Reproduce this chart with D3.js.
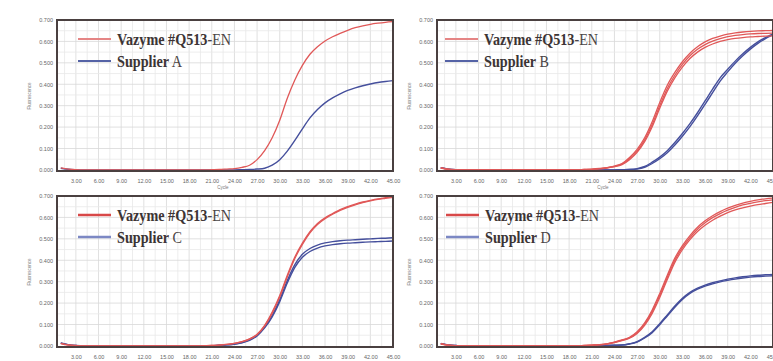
<!DOCTYPE html>
<html>
<head>
<meta charset="utf-8">
<script src="https://cdn.jsdelivr.net/npm/d3@7"></script>
<style>
  html, body { margin: 0; padding: 0; background: #fff; }
  svg { display: block; }
  .tick text { font-family: "Liberation Sans", Arial, sans-serif; font-size: 5.5px; fill: #666; }
  .legend text { font-family: "Liberation Serif", "Times New Roman", serif; font-size: 16.5px; fill: #3c3434; }
</style>
</head>
<body>
<div class="qpcr-grid"></div>
<script>
// cycle numbers on the x axis
const cycles = [1, 2, 3, 4, 5, 6, 7, 8, 9, 10, 11, 12, 13, 14, 15, 16, 17, 18, 19, 20, 21, 22, 23,
  24, 25, 26, 27, 28, 29, 30, 31, 32, 33, 34, 35, 36, 37, 38, 39, 40, 41, 42, 43, 44, 45];

const xTicks = [3, 6, 9, 12, 15, 18, 21, 24, 27, 30, 33, 36, 39, 42, 45];
const yTicks = [0, 0.1, 0.2, 0.3, 0.4, 0.5, 0.6, 0.7];

const supplierNames = ["A", "B", "C", "D"];

// panel A
const vazymeA = [0.010, 0.004, 0.001, 0, 0, 0, 0, 0, 0, 0, 0, 0, 0, 0, 0, 0, 0, 0, 0, 0, 0.001, 0.002, 0.004,
  0.006, 0.012, 0.022, 0.048, 0.090, 0.150, 0.232, 0.335, 0.420, 0.488, 0.540, 0.575, 0.602, 0.622, 0.638,
  0.652, 0.664, 0.673, 0.680, 0.685, 0.689, 0.692];
const supplierA = [0.008, 0.003, 0.001, 0, 0, 0, 0, 0, 0, 0, 0, 0, 0, 0, 0, 0, 0, 0, 0, 0, 0, 0, 0,
  0, 0.001, 0.002, 0.004, 0.008, 0.022, 0.048, 0.088, 0.138, 0.192, 0.243, 0.282, 0.313, 0.336, 0.355,
  0.371, 0.383, 0.393, 0.401, 0.408, 0.413, 0.417];

// panel B
const vazymeB1 = [0.008, 0.003, 0.001, 0, 0, 0, 0, 0, 0, 0, 0, 0, 0, 0, 0, 0, 0, 0, 0, 0.002, 0.004, 0.007, 0.011,
  0.018, 0.030, 0.058, 0.096, 0.150, 0.225, 0.315, 0.395, 0.455, 0.505, 0.545, 0.575, 0.598, 0.614, 0.625,
  0.634, 0.640, 0.644, 0.647, 0.649, 0.650, 0.651];
const vazymeB2 = [0.009, 0.003, 0.001, 0, 0, 0, 0, 0, 0, 0, 0, 0, 0, 0, 0, 0, 0, 0, 0, 0.002, 0.003, 0.006, 0.010,
  0.016, 0.027, 0.052, 0.088, 0.140, 0.212, 0.300, 0.380, 0.442, 0.493, 0.533, 0.563, 0.585, 0.601, 0.613,
  0.622, 0.628, 0.632, 0.635, 0.637, 0.638, 0.639];
const vazymeB3 = [0.010, 0.004, 0.001, 0, 0, 0, 0, 0, 0, 0, 0, 0, 0, 0, 0, 0, 0, 0, 0, 0.001, 0.003, 0.005, 0.009,
  0.015, 0.025, 0.048, 0.082, 0.132, 0.202, 0.288, 0.368, 0.430, 0.480, 0.520, 0.550, 0.572, 0.588, 0.600,
  0.608, 0.614, 0.618, 0.621, 0.623, 0.625, 0.626];
const supplierB1 = [0.010, 0.004, 0.001, 0, 0, 0, 0, 0, 0, 0, 0, 0, 0, 0, 0, 0, 0, 0, 0, 0, 0, 0, 0,
  0, 0.001, 0.002, 0.006, 0.016, 0.036, 0.060, 0.090, 0.128, 0.170, 0.216, 0.267, 0.322, 0.377, 0.430,
  0.470, 0.508, 0.542, 0.572, 0.598, 0.618, 0.635];
const supplierB2 = [0.011, 0.004, 0.001, 0, 0, 0, 0, 0, 0, 0, 0, 0, 0, 0, 0, 0, 0, 0, 0, 0, 0, 0, 0,
  0, 0.001, 0.002, 0.004, 0.012, 0.030, 0.052, 0.080, 0.116, 0.157, 0.202, 0.252, 0.306, 0.361, 0.415,
  0.458, 0.498, 0.533, 0.564, 0.591, 0.613, 0.631];

// panel C
const vazymeC1 = [0.012, 0.005, 0.002, 0, 0, 0, 0, 0, 0, 0, 0, 0, 0, 0, 0, 0, 0, 0, 0, 0.001, 0.002, 0.004, 0.007,
  0.012, 0.020, 0.032, 0.055, 0.096, 0.158, 0.235, 0.330, 0.415, 0.480, 0.533, 0.572, 0.598, 0.618, 0.637,
  0.650, 0.662, 0.672, 0.680, 0.687, 0.692, 0.697];
const vazymeC2 = [0.011, 0.004, 0.001, 0, 0, 0, 0, 0, 0, 0, 0, 0, 0, 0, 0, 0, 0, 0, 0, 0.001, 0.002, 0.004, 0.007,
  0.012, 0.020, 0.033, 0.052, 0.092, 0.152, 0.228, 0.322, 0.408, 0.474, 0.528, 0.567, 0.594, 0.615, 0.633,
  0.647, 0.659, 0.669, 0.677, 0.684, 0.689, 0.694];
const supplierC1 = [0.014, 0.006, 0.002, 0, 0, 0, 0, 0, 0, 0, 0, 0, 0, 0, 0, 0, 0, 0, 0, 0, 0.001, 0.003, 0.005,
  0.009, 0.016, 0.028, 0.050, 0.088, 0.142, 0.215, 0.305, 0.380, 0.428, 0.455, 0.471, 0.481, 0.487, 0.491,
  0.494, 0.496, 0.498, 0.500, 0.502, 0.503, 0.505];
const supplierC2 = [0.013, 0.005, 0.002, 0, 0, 0, 0, 0, 0, 0, 0, 0, 0, 0, 0, 0, 0, 0, 0, 0, 0.001, 0.003, 0.005,
  0.008, 0.015, 0.026, 0.047, 0.084, 0.136, 0.207, 0.294, 0.367, 0.414, 0.441, 0.457, 0.467, 0.473, 0.477,
  0.480, 0.482, 0.484, 0.486, 0.487, 0.488, 0.490];

// panel D
const vazymeD1 = [0.010, 0.004, 0.001, 0, 0, 0, 0, 0, 0, 0, 0, 0, 0, 0, 0, 0, 0, 0, 0, 0.002, 0.004, 0.006, 0.010,
  0.018, 0.028, 0.040, 0.066, 0.108, 0.168, 0.245, 0.330, 0.410, 0.468, 0.515, 0.554, 0.584, 0.608, 0.627,
  0.643, 0.656, 0.667, 0.675, 0.682, 0.687, 0.690];
const vazymeD2 = [0.011, 0.004, 0.001, 0, 0, 0, 0, 0, 0, 0, 0, 0, 0, 0, 0, 0, 0, 0, 0, 0.002, 0.004, 0.006, 0.010,
  0.017, 0.027, 0.038, 0.062, 0.102, 0.160, 0.236, 0.320, 0.400, 0.459, 0.506, 0.545, 0.575, 0.599, 0.618,
  0.634, 0.647, 0.658, 0.666, 0.673, 0.678, 0.682];
const vazymeD3 = [0.009, 0.003, 0.001, 0, 0, 0, 0, 0, 0, 0, 0, 0, 0, 0, 0, 0, 0, 0, 0, 0.001, 0.003, 0.005, 0.009,
  0.016, 0.025, 0.036, 0.058, 0.096, 0.152, 0.226, 0.310, 0.390, 0.449, 0.496, 0.534, 0.563, 0.587, 0.606,
  0.622, 0.635, 0.645, 0.653, 0.660, 0.665, 0.670];
const supplierD1 = [0.012, 0.005, 0.002, 0, 0, 0, 0, 0, 0, 0, 0, 0, 0, 0, 0, 0, 0, 0, 0, 0, 0, 0.001, 0.002,
  0.003, 0.004, 0.010, 0.020, 0.040, 0.066, 0.104, 0.145, 0.186, 0.222, 0.250, 0.270, 0.284, 0.295, 0.304,
  0.312, 0.318, 0.323, 0.327, 0.330, 0.332, 0.334];
const supplierD2 = [0.011, 0.005, 0.002, 0, 0, 0, 0, 0, 0, 0, 0, 0, 0, 0, 0, 0, 0, 0, 0, 0, 0, 0.001, 0.002,
  0.003, 0.004, 0.009, 0.018, 0.037, 0.062, 0.099, 0.140, 0.181, 0.217, 0.245, 0.265, 0.279, 0.290, 0.299,
  0.306, 0.312, 0.317, 0.321, 0.324, 0.326, 0.328];

const panels = [
  { dx: 0, dy: 0, red: [vazymeA], blue: [supplierA], legendX: 78, legendRed: "#e58585", legendBlue: "#5563a6", legendW: 2, cycleLabel: true },
  { dx: 380, dy: 0, red: [vazymeB1, vazymeB2, vazymeB3], blue: [supplierB1, supplierB2], legendX: 445, legendRed: "#e58585", legendBlue: "#5563a6", legendW: 2, cycleLabel: true },
  { dx: 0, dy: 176, red: [vazymeC1, vazymeC2], blue: [supplierC1, supplierC2], legendX: 78, legendRed: "#d84848", legendBlue: "#7c88c4", legendW: 2.6, cycleLabel: false },
  { dx: 380, dy: 176, red: [vazymeD1, vazymeD2, vazymeD3], blue: [supplierD1, supplierD2], legendX: 446, legendRed: "#d84848", legendBlue: "#7c88c4", legendW: 2.6, cycleLabel: false },
];

const width = 773;
const height = 361;
const plot = { left: 57, right: 393, top: 20, bottom: 171 };

const svg = d3.select(".qpcr-grid").append("svg")
  .attr("width", width)
  .attr("height", height);

const x = d3.scaleLinear().domain([0.5, 45]).range([plot.left, plot.right]);
const y = d3.scaleLinear().domain([-0.005, 0.7]).range([plot.bottom, plot.top]);

const line = d3.line()
  .x((d, i) => x(cycles[i]))
  .y((d) => y(d))
  .curve(d3.curveMonotoneX);

panels.forEach((p, k) => {
  const g = svg.append("g").attr("transform", `translate(${p.dx},${p.dy})`);

  g.append("rect")
    .attr("x", plot.left).attr("y", plot.top)
    .attr("width", plot.right - plot.left).attr("height", plot.bottom - plot.top)
    .attr("fill", "#fff");

  // grid
  const grid = g.append("g");
  d3.range(1.5, 45, 1.5).forEach((c) => {
    grid.append("line")
      .attr("x1", x(c)).attr("x2", x(c))
      .attr("y1", plot.top).attr("y2", plot.bottom)
      .attr("stroke", c % 3 === 0 ? "#d8d8d8" : "#e9e9e9")
      .attr("stroke-width", 0.8);
  });
  d3.range(0.05, 0.7, 0.05).forEach((v, i) => {
    grid.append("line")
      .attr("x1", plot.left).attr("x2", plot.right)
      .attr("y1", y(v)).attr("y2", y(v))
      .attr("stroke", i % 2 === 1 ? "#d8d8d8" : "#e9e9e9")
      .attr("stroke-width", 0.8);
  });

  // axes
  g.append("g")
    .attr("transform", `translate(${plot.left - 1},0)`)
    .call(d3.axisLeft(y).tickValues(yTicks).tickSize(0).tickPadding(3).tickFormat(d3.format(".3f")))
    .call((a) => a.select(".domain").remove());

  g.append("g")
    .attr("transform", `translate(0,${plot.bottom + 1})`)
    .call(d3.axisBottom(x).tickValues(xTicks).tickSize(0).tickPadding(7).tickFormat(d3.format(".2f")))
    .call((a) => a.select(".domain").remove());

  g.append("text")
    .attr("transform", `translate(31,96) rotate(-90)`)
    .attr("text-anchor", "middle")
    .attr("font-family", "Liberation Sans, Arial, sans-serif")
    .attr("font-size", 4.5)
    .attr("fill", "#777")
    .text("Fluorescence");

  if (p.cycleLabel) {
    g.append("text")
      .attr("x", 223).attr("y", 189)
      .attr("text-anchor", "middle")
      .attr("font-family", "Liberation Sans, Arial, sans-serif")
      .attr("font-size", 4.5)
      .attr("fill", "#777")
      .text("Cycle");
  }

  // curves
  p.blue.forEach((s) => {
    g.append("path").datum(s)
      .attr("d", line)
      .attr("fill", "none")
      .attr("stroke", "#454f9c")
      .attr("stroke-width", 1.4);
  });
  p.red.forEach((s) => {
    g.append("path").datum(s)
      .attr("d", line)
      .attr("fill", "none")
      .attr("stroke", "#e05858")
      .attr("stroke-width", 1.3);
  });

  // frame
  g.append("rect")
    .attr("x", plot.left).attr("y", plot.top)
    .attr("width", plot.right - plot.left).attr("height", plot.bottom - plot.top)
    .attr("fill", "none")
    .attr("stroke", "#4a4040")
    .attr("stroke-width", 2);

  // legend
  const lg = g.append("g").attr("class", "legend").attr("transform", `translate(${p.legendX - p.dx},0)`);
  lg.append("line")
    .attr("x1", 0).attr("x2", 33).attr("y1", 39).attr("y2", 39)
    .attr("stroke", p.legendRed).attr("stroke-width", p.legendW);
  lg.append("line")
    .attr("x1", 0).attr("x2", 33).attr("y1", 61).attr("y2", 61)
    .attr("stroke", p.legendBlue).attr("stroke-width", p.legendW);

  const t1 = lg.append("text").attr("transform", "translate(39,45) scale(0.86,1)");
  t1.append("tspan").attr("font-weight", "bold").text("Vazyme #Q513");
  t1.append("tspan").attr("font-weight", "normal").attr("fill", "#4a4444").text("-EN");

  const t2 = lg.append("text").attr("transform", "translate(39,67) scale(0.86,1)");
  t2.append("tspan").attr("font-weight", "bold").text("Supplier");
  t2.append("tspan").attr("font-weight", "normal").attr("fill", "#4a4444").text(" " + supplierNames[k]);
});
</script>
</body>
</html>
